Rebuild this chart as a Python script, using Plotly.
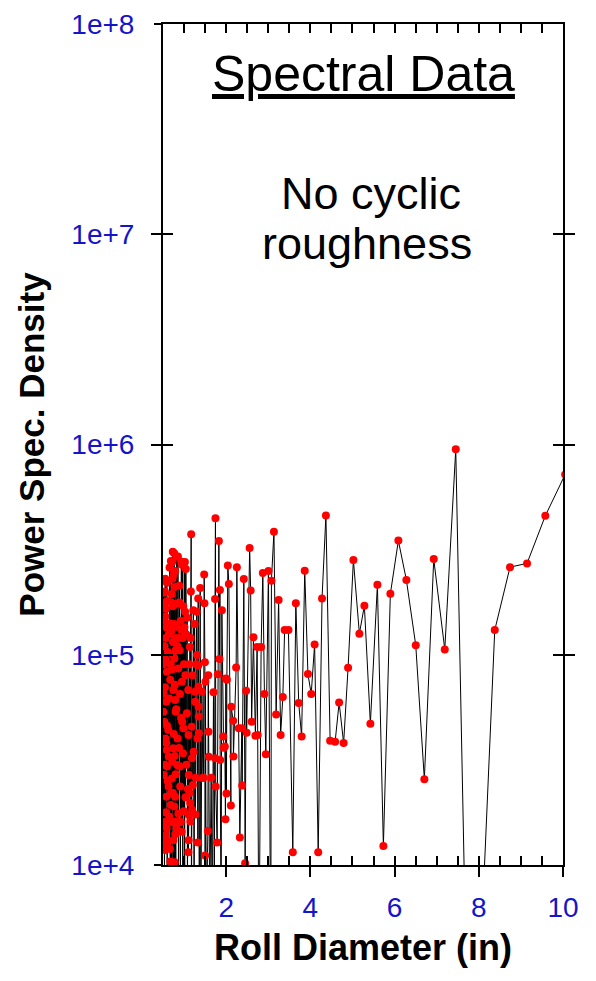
import plotly.graph_objects as go

# ---- data: roll diameter (in) and power spectral density ----
# dense cluster, 0.5 - 1.33 in
diameter_dense = [
    0.505, 0.507, 0.510, 0.512, 0.515, 0.517, 0.520, 0.522, 0.525, 0.527,
    0.530, 0.532, 0.535, 0.540, 0.545, 0.547, 0.550, 0.552, 0.555, 0.557,
    0.560, 0.562, 0.565, 0.567, 0.570, 0.572, 0.575, 0.577, 0.580, 0.582,
    0.585, 0.587, 0.590, 0.592, 0.595, 0.597, 0.600, 0.605, 0.610, 0.615,
    0.620, 0.625, 0.630, 0.635, 0.640, 0.645, 0.650, 0.655, 0.660, 0.665,
    0.670, 0.675, 0.680, 0.683, 0.687, 0.690, 0.694, 0.697, 0.700, 0.703,
    0.706, 0.711, 0.713, 0.716, 0.719, 0.722, 0.724, 0.727, 0.729, 0.732,
    0.734, 0.737, 0.739, 0.742, 0.744, 0.747, 0.749, 0.752, 0.756, 0.760,
    0.763, 0.766, 0.768, 0.771, 0.773, 0.776, 0.778, 0.781, 0.783, 0.786,
    0.788, 0.791, 0.793, 0.796, 0.798, 0.801, 0.803, 0.806, 0.810, 0.815,
    0.820, 0.825, 0.830, 0.835, 0.840, 0.845, 0.850, 0.855, 0.860, 0.865,
    0.870, 0.875, 0.880, 0.887, 0.892, 0.897, 0.900, 0.904, 0.908, 0.915,
    0.920, 0.925, 0.930, 0.935, 0.940, 0.945, 0.950, 0.955, 0.960, 0.965,
    0.970, 0.975, 0.980, 0.986, 0.992, 0.998, 1.005, 1.010, 1.015, 1.020,
    1.025, 1.030, 1.035, 1.043, 1.050, 1.058, 1.067, 1.073, 1.080, 1.090,
    1.100, 1.103, 1.106, 1.109, 1.112, 1.115, 1.120, 1.130, 1.140, 1.145,
    1.150, 1.155, 1.162, 1.169, 1.175, 1.184, 1.188, 1.192, 1.200, 1.210,
    1.220, 1.228, 1.240, 1.250, 1.260, 1.265, 1.270, 1.280, 1.290, 1.300,
    1.308, 1.318, 1.328,
]
psd_dense = [
    1.74e5, 9.0e4, 5.36e4, 1.3e4, 1.97e5, 6.5e4, 2.68e4, 1.45e5, 1.77e5, 1.6e4,
    4.8e4, 1.1e5, 6.0e3, 3.0e4, 2.0e5, 7.0e4, 1.18e4, 2.3e5, 1.52e5, 4.0e4,
    1.39e4, 9.5e4, 1.20e5, 1.25e4, 1.78e4, 1.65e5, 5.98e4, 3.8e4, 2.11e4, 1.35e5,
    3.52e4, 1.5e4, 8.3e4, 2.2e5, 2.94e4, 4.6e4, 5.0e3, 1.8e5, 2.5e4, 1.03e5,
    1.29e4, 4.39e4, 2.36e4, 3.27e4, 1.25e5, 1.7e4, 6.2e4, 2.6e5, 1.41e5, 1.19e4,
    7.6e4, 1.04e4, 1.93e4, 9.0e4, 2.79e5, 2.2e4, 1.77e5, 1.3e5, 4.0e3, 1.6e4,
    1.94e5, 2.58e4, 8.5e4, 1.02e4, 3.1e4, 2.77e5, 1.6e4, 2.30e5, 1.0e5, 3.09e5,
    2.2e4, 1.15e5, 1.7e5, 3.59e4, 6.8e4, 1.31e4, 2.4e5, 7.0e3, 4.2e4, 1.02e4,
    1.4e5, 3.04e5, 1.9e4, 9.6e4, 2.1e5, 1.03e4, 3.3e4, 7.2e4, 1.2e5, 2.11e4,
    2.5e5, 6.1e4, 1.4e4, 1.61e4, 1.05e5, 5.36e4, 2.7e4, 6.0e3, 1.75e5, 5.5e4,
    1.5e4, 2.93e5, 1.36e5, 2.99e4, 1.1e5, 4.0e4, 1.6e4, 2.93e5, 8.6e4, 1.76e4,
    5.0e3, 1.2e5, 3.6e4, 2.13e5, 1.77e5, 1.05e5, 2.94e4, 6.5e4, 2.36e4, 6.0e3,
    1.45e5, 1.6e4, 5.0e4, 2.77e5, 1.31e5, 1.44e4, 7.45e4, 4.8e4, 2.67e5, 1.2e5,
    8.0e3, 3.4e4, 1.7e5, 4.47e4, 1.8e4, 9.0e4, 2.74e5, 1.35e5, 5.0e3, 2.76e5,
    1.60e5, 8.0e4, 2.1e4, 2.56e5, 1.25e5, 3.0e4, 5.27e4, 1.5e5, 7.0e3, 2.3e4,
    6.8e4, 1.15e4, 4.15e4, 1.31e4, 2.68e4, 1.73e4, 9.0e4, 2.2e4, 1.09e5, 1.97e4,
    1.61e4, 1.2e5, 2.0e5, 3.74e5, 6.0e3, 4.55e4, 3.22e4, 1.83e4, 8.0e4, 2.4e4,
    1.63e5, 3.46e4, 5.0e3, 1.4e5, 6.67e4, 5.98e4, 1.74e4, 2.6e4, 9.0e4, 1.60e5,
    9.97e4, 4.0e4, 1.28e4,
]

# middle band, 1.33 - 3.6 in
diameter_mid = [
    1.336, 1.339, 1.342, 1.345, 1.348, 1.351, 1.365, 1.383, 1.400, 1.423,
    1.447, 1.461, 1.478, 1.485, 1.495, 1.501, 1.507, 1.530, 1.566, 1.575,
    1.580, 1.586, 1.610, 1.644, 1.670, 1.699, 1.720, 1.736, 1.740, 1.746,
    1.752, 1.786, 1.803, 1.827, 1.841, 1.852, 1.858, 1.880, 1.898, 1.930,
    1.940, 1.969, 1.983, 1.993, 2.007, 2.017, 2.040, 2.064, 2.112, 2.119,
    2.166, 2.173, 2.237, 2.254, 2.301, 2.325, 2.373, 2.380, 2.420, 2.451,
    2.475, 2.487, 2.558, 2.582, 2.605, 2.648, 2.694, 2.735, 2.749, 2.780,
    2.830, 2.871, 2.909, 2.942, 3.004, 3.060, 3.075, 3.135, 3.187, 3.246,
    3.294, 3.346, 3.389, 3.479, 3.583,
]
psd_mid = [
    1.85e5, 8.9e4, 7.05e4, 5.66e4, 5.08e4, 4.23e4, 4.0e3, 2.08e5, 5.0e3, 6.67e4,
    2.59e4, 2.6e4, 2.41e5, 1.76e5, 9.2e4, 1.11e4, 7.45e4, 5.0e3, 1.45e4, 8.0e4,
    4.3e4, 3.27e4, 6.0e3, 2.6e4, 5.0e3, 6.63e4, 7.0e3, 1.84e5, 3.22e4, 4.46e5,
    2.36e4, 1.28e4, 8.07e4, 3.48e5, 9.55e4, 2.03e5, 3.16e4, 5.0e3, 1.63e5, 4.08e4,
    3.61e4, 3.66e4, 1.65e4, 7.7e4, 2.19e4, 7.6e4, 2.66e5, 2.17e5, 1.92e4, 5.66e4,
    4.86e4, 3.28e4, 8.7e4, 2.61e5, 4.47e4, 1.35e4, 4.47e4, 2.39e4, 2.29e5, 1.02e4,
    6.75e4, 4.26e4, 3.22e5, 2.02e5, 4.8e4, 1.21e5, 4.12e4, 1.09e5, 4.15e4, 3.0e3,
    1.09e5, 2.45e5, 6.5e4, 3.36e4, 2.5e5, 3.0e3, 2.25e5, 3.85e5, 5.2e4, 1.82e5,
    4.15e4, 6.3e4, 1.31e5, 1.31e5, 1.15e4,
]

# sparse band, 3.6 - 10 in
diameter_sparse = [
    3.655, 3.723, 3.792, 3.866, 3.942, 4.020, 4.101, 4.186, 4.277, 4.369,
    4.469, 4.588, 4.683, 4.790, 4.896, 5.022, 5.164, 5.283, 5.425, 5.592,
    5.734, 5.900, 6.090, 6.280, 6.503, 6.707, 6.930, 7.192, 7.453, 7.750,
    8.050, 8.379, 8.742, 9.146, 9.580, 10.05,
]
psd_sparse = [
    1.76e5, 5.9e4, 4.08e4, 2.51e5, 8.1e4, 6.5e4, 1.12e5, 1.15e4, 1.85e5, 4.6e5,
    3.9e4, 3.86e4, 5.92e4, 3.80e4, 8.68e4, 2.82e5, 1.26e5, 1.71e5, 4.70e4, 2.15e5,
    1.23e4, 1.95e5, 3.49e5, 2.27e5, 1.11e5, 2.56e4, 2.85e5, 1.06e5, 9.49e5, 1.0e3,
    4.0e3, 1.31e5, 2.61e5, 2.72e5, 4.58e5, 7.2e5,
]

x_tick_vals = [2, 4, 6, 8, 10]
x_tick_text = ["2", "4", "6", "8", "10"]
y_tick_vals = [1e4, 1e5, 1e6, 1e7, 1e8]
y_tick_text = ["1e+4", "1e+5", "1e+6", "1e+7", "1e+8"]

assert len(diameter_dense) == len(psd_dense)
assert len(diameter_mid) == len(psd_mid)
assert len(diameter_sparse) == len(psd_sparse)

diameter_in = diameter_dense + diameter_mid + diameter_sparse
psd = psd_dense + psd_mid + psd_sparse

FONT = "Liberation Sans, Arial, sans-serif"
BLUE = "#1414c8"

fig = go.Figure()
fig.add_trace(go.Scatter(
    x=diameter_in, y=psd, mode="lines+markers",
    line=dict(color="black", width=1),
    marker=dict(color="#ff0000", size=8),
    showlegend=False, hoverinfo="skip",
))
# empty traces so the overlaid tick/label axes get drawn
fig.add_trace(go.Scatter(x=[], y=[], xaxis="x2", yaxis="y", showlegend=False, hoverinfo="skip"))
fig.add_trace(go.Scatter(x=[], y=[], xaxis="x", yaxis="y2", showlegend=False, hoverinfo="skip"))

common_x = dict(range=[0.5, 10], showgrid=False, zeroline=False, automargin=False)
common_y = dict(type="log", range=[4, 8], showgrid=False, zeroline=False, automargin=False)

fig.update_layout(
    template="none",
    width=588, height=973,
    margin=dict(l=155, r=33, t=16, b=116),
    paper_bgcolor="white", plot_bgcolor="white",
    font=dict(family=FONT, color="black"),
    xaxis=dict(
        **common_x,
        showline=True, linecolor="black", linewidth=2, mirror="allticks",
        ticks="inside", ticklen=9, tickwidth=2, tickcolor="black",
        tickvals=x_tick_vals, showticklabels=False,
        minor=dict(dtick=0.5, tick0=0, ticks="inside", ticklen=5,
                   tickwidth=1.5, tickcolor="black", showgrid=False),
    ),
    xaxis2=dict(
        **common_x, overlaying="x", side="bottom", anchor="y",
        showline=False, ticks="outside", ticklen=11, tickwidth=2, tickcolor="black",
        tickvals=x_tick_vals, ticktext=x_tick_text,
        tickfont=dict(family=FONT, size=28, color=BLUE),
        ticklabelstandoff=6,
        title=dict(text="<b>Roll Diameter (in)</b>",
                   font=dict(family=FONT, size=36, color="black"), standoff=13),
    ),
    yaxis=dict(
        **common_y,
        showline=True, linecolor="black", linewidth=2, mirror="allticks",
        ticks="inside", ticklen=10, tickwidth=2, tickcolor="black",
        tickvals=y_tick_vals, showticklabels=False,
    ),
    yaxis2=dict(
        **common_y, overlaying="y", side="left", anchor="x",
        showline=False, ticks="outside", ticklen=8, tickwidth=2, tickcolor="black",
        tickvals=y_tick_vals, ticktext=y_tick_text,
        tickfont=dict(family=FONT, size=28, color=BLUE),
        ticklabelstandoff=14,
        title=dict(text="<b>Power Spec. Density</b>",
                   font=dict(family=FONT, size=35, color="black"), standoff=16),
    ),
    annotations=[
        dict(text="<u>Spectral Data</u>", xref="paper", yref="paper",
             x=0.5, y=0.940, xanchor="center", yanchor="middle", showarrow=False,
             font=dict(family=FONT, size=50, color="black")),
        dict(text="No cyclic", xref="paper", yref="paper",
             x=0.519, y=0.798, xanchor="center", yanchor="middle", showarrow=False,
             font=dict(family=FONT, size=45, color="black")),
        dict(text="roughness", xref="paper", yref="paper",
             x=0.509, y=0.739, xanchor="center", yanchor="middle", showarrow=False,
             font=dict(family=FONT, size=45, color="black")),
    ],
)

fig.write_html("out.html")
